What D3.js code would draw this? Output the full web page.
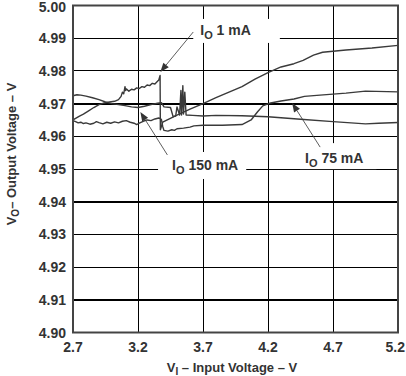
<!DOCTYPE html>
<html lang="en">
<head>
<meta charset="UTF-8">
<title>Output Voltage vs Input Voltage</title>
<style>
  body { margin: 0; background: #fff; }
  svg { display: block; font-family: "Liberation Sans", Arial, sans-serif; }
  .tick-label { font-size: 14px; font-weight: bold; fill: #333; }
  .axis-title { font-size: 13px; font-weight: bold; fill: #333; }
  .curve { fill: none; stroke: #3a3a3a; stroke-width: 1.4px; stroke-linejoin: round; }
  .note { font-size: 14px; font-weight: bold; fill: #333; }
</style>
</head>
<body>
<script src="https://cdn.jsdelivr.net/npm/d3@7/dist/d3.min.js"></script>
<script>
  const xTicks = [2.7, 3.2, 3.7, 4.2, 4.7, 5.2];
  const yTicks = [4.90, 4.91, 4.92, 4.93, 4.94, 4.95, 4.96, 4.97, 4.98, 4.99, 5.00];
  const boldGrid = [4.91, 4.94, 4.97];

  // [VI, VO]
  const io1mA = [
    [2.70, 4.9650], [2.72, 4.9655], [2.75, 4.9662], [2.78, 4.9668], [2.82, 4.9678], [2.86, 4.9688],
    [2.90, 4.9697], [2.94, 4.9702], [2.98, 4.9705], [3.02, 4.9707], [3.05, 4.9712], [3.07, 4.9722],
    [3.08, 4.9735], [3.09, 4.9730], [3.10, 4.9752], [3.105, 4.9740], [3.11, 4.9745], [3.13, 4.9738],
    [3.15, 4.9744], [3.17, 4.9742], [3.19, 4.9748], [3.21, 4.9746], [3.23, 4.9752], [3.25, 4.9750],
    [3.27, 4.9757], [3.29, 4.9755], [3.31, 4.9762], [3.33, 4.9760], [3.35, 4.9768], [3.36, 4.9772],
    [3.37, 4.9786], [3.372, 4.9620], [3.39, 4.9643], [3.50, 4.9665], [3.60, 4.9683], [3.70, 4.9700],
    [3.80, 4.9718], [3.90, 4.9735], [4.00, 4.9752], [4.10, 4.9775], [4.20, 4.9795], [4.30, 4.9812],
    [4.40, 4.9822], [4.47, 4.9832], [4.55, 4.9848], [4.62, 4.9857], [4.80, 4.9864], [5.00, 4.9870],
    [5.20, 4.9878]
  ];

  const io150mA = [
    [2.70, 4.9724], [2.73, 4.9727], [2.76, 4.9726], [2.80, 4.9723], [2.85, 4.9718], [2.90, 4.9712],
    [2.95, 4.9705], [3.00, 4.9700], [3.05, 4.9697], [3.10, 4.9694], [3.15, 4.9690], [3.20, 4.9688],
    [3.25, 4.9692], [3.30, 4.9697], [3.35, 4.9701], [3.38, 4.9703], [3.40, 4.9690], [3.45, 4.9688],
    [3.47, 4.9660], [3.49, 4.9662], [3.50, 4.9690], [3.52, 4.9665], [3.53, 4.9740], [3.535, 4.9665],
    [3.545, 4.9755], [3.55, 4.9668], [3.56, 4.9735], [3.57, 4.9665], [3.62, 4.9664], [3.70, 4.9662],
    [3.80, 4.9664], [4.00, 4.9663], [4.20, 4.9660], [4.45, 4.9652], [4.70, 4.9645], [4.95, 4.9638],
    [5.05, 4.9640], [5.20, 4.9642]
  ];

  const io75mA = [
    [2.70, 4.9648], [2.72, 4.9645], [2.74, 4.9641], [2.76, 4.9643], [2.78, 4.9639], [2.80, 4.9641],
    [2.83, 4.9637], [2.86, 4.9640], [2.88, 4.9645], [2.90, 4.9642], [2.93, 4.9638], [2.96, 4.9643],
    [2.99, 4.9640], [3.02, 4.9644], [3.05, 4.9641], [3.08, 4.9646], [3.11, 4.9648], [3.14, 4.9643],
    [3.17, 4.9640], [3.19, 4.9636], [3.21, 4.9640], [3.24, 4.9646], [3.27, 4.9650], [3.30, 4.9648],
    [3.33, 4.9653], [3.36, 4.9656], [3.38, 4.9652], [3.39, 4.9630], [3.40, 4.9618], [3.43, 4.9616],
    [3.46, 4.9620], [3.48, 4.9618], [3.50, 4.9623], [3.55, 4.9625], [3.60, 4.9628], [3.63, 4.9632],
    [3.70, 4.9634], [3.85, 4.9634], [4.00, 4.9636], [4.07, 4.9650], [4.12, 4.9675], [4.16, 4.9693],
    [4.22, 4.9702], [4.30, 4.9708], [4.40, 4.9714], [4.48, 4.9722], [4.60, 4.9726], [4.80, 4.9732],
    [4.95, 4.9738], [5.20, 4.9736]
  ];

  const series = [io1mA, io150mA, io75mA];

  // callouts: label anchor and arrow in data units, pad = [left, right, top, bottom] of the white box
  const notes = [
    { load: "1 mA",   at: [3.679, 4.9910], tail: [3.625, 4.9919], tip: [3.372, 4.97966], pad: [7, 29, 3, 2] },
    { load: "150 mA", at: [3.462, 4.9497], tail: [3.426, 4.9543], tip: [3.218, 4.96743], pad: [14, 8, 5, 3] },
    { load: "75 mA",  at: [4.485, 4.9518], tail: [4.601, 4.9567], tip: [4.386, 4.97018], pad: [5, 13, 7, 0] }
  ];

  const width = 406, height = 376;
  const svg = d3.select("body").append("svg").attr("width", width).attr("height", height);

  const x = d3.scaleLinear().domain([2.7, 5.2]).range([73, 398]);
  const y = d3.scaleLinear().domain([4.90, 5.00]).range([332.5, 5.5]);

  const grid = svg.append("g").attr("shape-rendering", "crispEdges");
  grid.selectAll("line.h").data(yTicks.slice(1, -1)).enter().append("line")
    .attr("x1", x(2.7)).attr("x2", x(5.2))
    .attr("y1", d => y(d)).attr("y2", d => y(d))
    .attr("stroke", "#000")
    .attr("stroke-width", d => boldGrid.some(b => Math.abs(b - d) < 1e-6) ? 2 : 1);
  grid.selectAll("line.v").data(xTicks.slice(1, -1)).enter().append("line")
    .attr("x1", d => x(d)).attr("x2", d => x(d))
    .attr("y1", y(5.00)).attr("y2", y(4.90))
    .attr("stroke", "#000").attr("stroke-width", 1);

  const line = d3.line().x(d => x(d[0])).y(d => y(d[1]));
  svg.append("g").selectAll("path").data(series).enter().append("path")
    .attr("class", "curve").attr("d", line);

  svg.append("rect")
    .attr("x", x(2.7)).attr("y", y(5.00))
    .attr("width", x(5.2) - x(2.7)).attr("height", y(4.90) - y(5.00))
    .attr("fill", "none").attr("stroke", "#444").attr("stroke-width", 2);

  // tick labels
  svg.append("g").selectAll("text").data(yTicks).enter().append("text")
    .attr("class", "tick-label")
    .attr("x", x(2.7) - 7).attr("y", d => Math.max(y(d) + 5, 11.5))
    .attr("text-anchor", "end")
    .text(d => d.toFixed(2));
  svg.append("g").selectAll("text").data(xTicks).enter().append("text")
    .attr("class", "tick-label")
    .attr("x", (d, i) => i === xTicks.length - 1 ? width - 1 : x(d))
    .attr("y", 352)
    .attr("text-anchor", (d, i) => i === xTicks.length - 1 ? "end" : "middle")
    .text(d => d.toFixed(1));

  // axis titles
  const xt = svg.append("text").attr("class", "axis-title")
    .attr("x", 232).attr("y", 372).attr("text-anchor", "middle");
  xt.append("tspan").text("V");
  xt.append("tspan").attr("font-size", "10px").attr("dy", 3).text("I");
  xt.append("tspan").attr("dy", -3).text(" \u2013 Input Voltage \u2013 V");

  const yt = svg.append("text").attr("class", "axis-title")
    .attr("transform", "translate(16,154) rotate(-90)").attr("text-anchor", "middle");
  yt.append("tspan").text("V");
  yt.append("tspan").attr("font-size", "10px").attr("dy", 3).text("O");
  yt.append("tspan").attr("dy", -3).text("\u2013 Output Voltage \u2013 V");

  // callouts
  notes.forEach(n => {
    const g = svg.append("g");
    const box = g.append("rect").attr("fill", "#fff");
    const t = g.append("text").attr("class", "note")
      .attr("x", x(n.at[0])).attr("y", y(n.at[1]));
    t.append("tspan").text("I");
    t.append("tspan").attr("font-size", "11px").attr("dy", 4).text("O");
    t.append("tspan").attr("dy", -4).text(" " + n.load);
    const b = t.node().getBBox();
    box.attr("x", b.x - n.pad[0]).attr("y", b.y - n.pad[2])
      .attr("width", b.width + n.pad[0] + n.pad[1])
      .attr("height", b.height + n.pad[2] + n.pad[3]);

    const x0 = x(n.tail[0]), y0 = y(n.tail[1]);
    const x1 = x(n.tip[0]), y1 = y(n.tip[1]);
    const a = Math.atan2(y1 - y0, x1 - x0);
    const len = 9, half = 3.5;
    const bx = x1 - len * Math.cos(a), by = y1 - len * Math.sin(a);
    g.append("line")
      .attr("x1", x0).attr("y1", y0).attr("x2", bx).attr("y2", by)
      .attr("stroke", "#333").attr("stroke-width", 0.8);
    g.append("path")
      .attr("d", `M${x1},${y1}L${bx + half * Math.sin(a)},${by - half * Math.cos(a)}L${bx - half * Math.sin(a)},${by + half * Math.cos(a)}Z`)
      .attr("fill", "#333");
  });
</script>
</body>
</html>
